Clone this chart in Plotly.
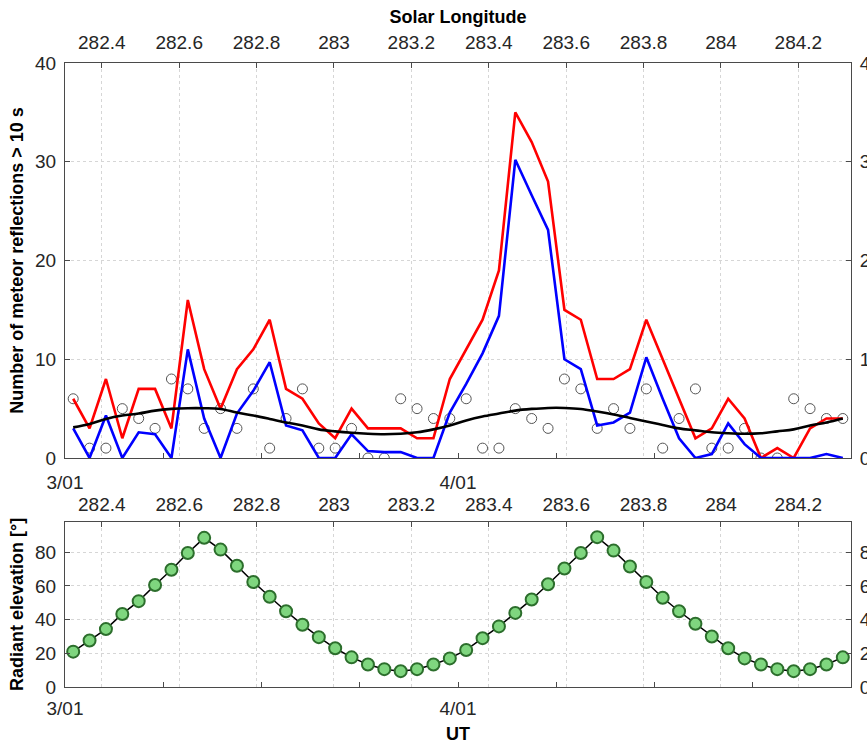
import plotly.graph_objects as go

# ---------------- data ----------------
ut_hours = [h + 0.5 for h in range(48)]  # hourly bins, 3/01 00h .. 5/01 00h

red_counts = [6, 3, 8, 2, 7, 7, 3, 16, 9, 5, 9, 11, 14, 7, 6, 3.5, 2, 5, 3, 3, 3, 2, 2, 8,
              11, 14, 19, 35, 32, 28, 15, 14, 8, 8, 9, 14, 10, 6, 2, 3, 6, 4, 0, 1, 0, 3, 4, 4]

blue_counts = [3, 0, 4.3, 0, 2.6, 2.4, 0, 11, 4, 0, 4.5, 6.8, 9.7, 3.3, 2.8, 0, 0, 2.4, 0.7, 0.6, 0.6, 0, 0, 4.6,
               7.5, 10.6, 14.4, 30.2, 26.6, 23.1, 10, 9, 3.3, 3.6, 4.6, 10.2, 6, 2, 0, 0.4, 3.5, 1.4, 0, 0, 0, 0, 0.4, 0]

sporadic_counts = [6, 1, 1, 5, 4, 3, 8, 7, 3, 5, 3, 7, 1, 4, 7, 1, 1, 3, 0, 0, 6, 5, 4, 4,
                   6, 1, 1, 5, 4, 3, 8, 7, 3, 5, 3, 7, 1, 4, 7, 1, 1, 3, 0, 0, 6, 5, 4, 4]

background_fit = [3.1, 3.45, 3.96, 4.3, 4.5, 4.8, 4.97, 5.04, 5.04, 4.97, 4.6, 4.3, 3.96, 3.6, 3.3, 2.9,
                  2.7, 2.55, 2.45, 2.4, 2.45, 2.6, 2.9, 3.3, 3.8, 4.2, 4.5, 4.8, 4.97, 5.07, 5.07, 4.97,
                  4.7, 4.4, 4.06, 3.7, 3.35, 3.0, 2.8, 2.6, 2.5, 2.45, 2.5, 2.7, 2.9, 3.3, 3.6, 4.0]

radiant_elevation = [21, 27.6, 34.4, 43.4, 51, 60.6, 69.6, 79.6, 88.6, 81.6, 72, 62.4, 53.6, 45, 37, 29.6,
                     23, 17.6, 13.4, 10.6, 9.4, 10.6, 13.4, 17, 22, 29, 36, 44, 52, 61, 70.4, 79.6,
                     89, 81, 71.6, 62.4, 53, 45, 37.6, 30, 23, 17, 13.4, 10.6, 9.4, 10.6, 13.4, 17.6]

date_tickvals = [0, 6, 12, 18, 24, 30, 36, 42, 48]
date_ticktext = ["3/01", "", "", "", "4/01", "", "", "", "5/01"]

lon_range = [282.305, 284.336]
lon_tickvals = [282.4, 282.6, 282.8, 283.0, 283.2, 283.4, 283.6, 283.8, 284.0, 284.2]
lon_ticktext = ["282.4", "282.6", "282.8", "283", "283.2", "283.4", "283.6", "283.8", "284", "284.2"]

count_ticks = [0, 10, 20, 30, 40]
elev_ticks = [0, 20, 40, 60, 80]

# ---------------- style ----------------
FONT = "Liberation Sans, Arial, Helvetica, sans-serif"
TICKFONT = dict(family=FONT, size=19, color="#262626")
TITLEFONT = dict(family=FONT, size=18, color="#000000", weight="bold")
LINEC = "#4a4a4a"
GRIDC = "#d6d6d6"

fig = go.Figure()

fig.add_trace(go.Scatter(x=ut_hours, y=sporadic_counts, mode="markers",
                         marker=dict(symbol="circle-open", size=10, color="#555555", line=dict(width=1)),
                         xaxis="x", yaxis="y", hoverinfo="skip"))
fig.add_trace(go.Scatter(x=ut_hours, y=red_counts, mode="lines",
                         line=dict(color="#ff0000", width=2.6), xaxis="x", yaxis="y"))
fig.add_trace(go.Scatter(x=ut_hours, y=blue_counts, mode="lines",
                         line=dict(color="#0000ff", width=2.6), xaxis="x", yaxis="y"))
fig.add_trace(go.Scatter(x=ut_hours, y=background_fit, mode="lines", line_shape="spline",
                         line=dict(color="#000000", width=2.6), xaxis="x", yaxis="y"))

fig.add_trace(go.Scatter(x=ut_hours, y=radiant_elevation, mode="lines+markers",
                         line=dict(color="#000000", width=1.5),
                         marker=dict(symbol="circle", size=12, color="#7fd67f",
                                     line=dict(color="#2c6e2c", width=2)),
                         xaxis="x2", yaxis="y3"))

# empty traces that only activate the mirrored (solar longitude / right) axes
for xa, ya in [("x3", "y"), ("x", "y2"), ("x4", "y3"), ("x2", "y4")]:
    fig.add_trace(go.Scatter(x=[], y=[], mode="markers", xaxis=xa, yaxis=ya,
                             hoverinfo="skip", showlegend=False))

common_x = dict(ticks="inside", ticklen=5, tickcolor=LINEC, showline=True, linecolor=LINEC,
                linewidth=1, zeroline=False, tickfont=TICKFONT, automargin=False)
common_y = dict(ticks="inside", ticklen=5, tickcolor=LINEC, showline=True, linecolor=LINEC,
                linewidth=1, zeroline=False, tickfont=TICKFONT, automargin=False)

TOP_DOM = [(687 - 458) / 624, 1.0]
BOT_DOM = [0.0, (687 - 522) / 624]

fig.update_layout(
    template="none",
    width=867, height=744,
    margin=dict(l=65, r=16, t=63, b=57, pad=0),
    paper_bgcolor="white", plot_bgcolor="white",
    showlegend=False,
    xaxis=dict(domain=[0, 1], anchor="y", range=[0, 48], tickmode="array",
               tickvals=date_tickvals, ticktext=date_ticktext, showgrid=False,
               ticklabelstandoff=7, **common_x),
    xaxis3=dict(overlaying="x", side="top", anchor="y", range=lon_range, tickmode="array",
                tickvals=lon_tickvals, ticktext=lon_ticktext, showgrid=True, gridcolor=GRIDC,
                griddash="dot", gridwidth=1, ticklabelstandoff=5,
                title=dict(text="Solar Longitude", font=TITLEFONT, standoff=4), **common_x),
    yaxis=dict(domain=TOP_DOM, anchor="x", range=[0, 40], tickmode="array", tickvals=count_ticks,
               showgrid=True, gridcolor=GRIDC, griddash="dot", gridwidth=1, ticklabelstandoff=4,
               title=dict(text="Number of meteor reflections > 10 s", font=TITLEFONT, standoff=6),
               **common_y),
    yaxis2=dict(overlaying="y", side="right", anchor="x", range=[0, 40], tickmode="array",
                tickvals=count_ticks, showgrid=False, ticklabelstandoff=4, **common_y),
    xaxis2=dict(domain=[0, 1], anchor="y3", range=[0, 48], tickmode="array",
                tickvals=date_tickvals, ticktext=date_ticktext, showgrid=False,
                ticklabelstandoff=4,
                title=dict(text="UT", font=TITLEFONT, standoff=9), **common_x),
    xaxis4=dict(overlaying="x2", side="top", anchor="y3", range=lon_range, tickmode="array",
                tickvals=lon_tickvals, ticktext=lon_ticktext, showgrid=True, gridcolor=GRIDC,
                griddash="dot", gridwidth=1, ticklabelstandoff=2, **common_x),
    yaxis3=dict(domain=BOT_DOM, anchor="x2", range=[0, 98], tickmode="array", tickvals=elev_ticks,
                showgrid=True, gridcolor=GRIDC, griddash="dot", gridwidth=1, ticklabelstandoff=4,
                title=dict(text="Radiant elevation [°]", font=TITLEFONT, standoff=6), **common_y),
    yaxis4=dict(overlaying="y3", side="right", anchor="x2", range=[0, 98], tickmode="array",
                tickvals=elev_ticks, showgrid=False, ticklabelstandoff=4, **common_y),
)

fig.write_html("out.html")
